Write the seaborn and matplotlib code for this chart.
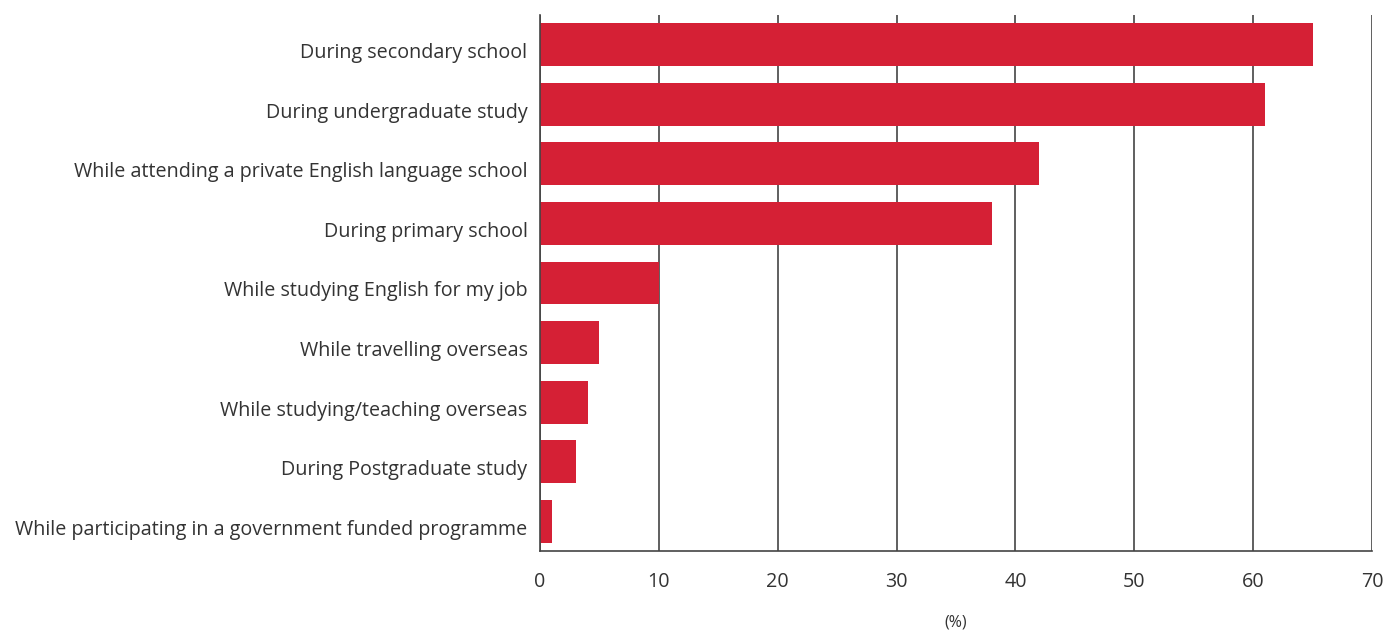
import numpy as np
import pandas as pd
import matplotlib
matplotlib.use("Agg")
import matplotlib.pyplot as plt
import matplotlib.transforms as mtransforms
import seaborn as sns

categories = [
    "During secondary school",
    "During undergraduate study",
    "While attending a private English language school",
    "During primary school",
    "While studying English for my job",
    "While travelling overseas",
    "While studying/teaching overseas",
    "During Postgraduate study",
    "While participating in a government funded programme",
]
values = [65, 61, 42, 38, 10, 5, 4, 3, 1]
xticks = [0, 10, 20, 30, 40, 50, 60, 70]

df = pd.DataFrame({"category": categories, "value": values})

sns.set_style("white")
plt.rcParams["font.family"] = ["Open Sans", "DejaVu Sans"]

fig = plt.figure(figsize=(13.85, 6.3), dpi=100)
ax = fig.add_axes([0.3899, 0.1254, 0.6007, 0.8508])

# gridlines behind bars
for t in xticks:
    ax.axvline(t, color="#444444", lw=1.2, zorder=0)

sns.barplot(data=df, x="value", y="category", color="#D52035",
            saturation=1, width=0.72, linewidth=0, ax=ax, zorder=2)

ax.set_xlim(0, 70)
ax.set_ylim(8.5, -0.5)
ax.set_xticks(xticks)
ax.set_xlabel("(%)", fontsize=11.5, color="#333333", labelpad=16)
ax.set_ylabel("")
ax.tick_params(axis="both", length=0, labelsize=14.2, colors="#333333")
ax.tick_params(axis="x", pad=15)
ax.tick_params(axis="y", pad=9)

# category labels sit a little below bar centres in the original
shift = mtransforms.ScaledTranslation(0, -6 / 100, fig.dpi_scale_trans)
for lab in ax.get_yticklabels():
    lab.set_transform(lab.get_transform() + shift)

for s in ["top", "right"]:
    ax.spines[s].set_visible(False)
for s in ["left", "bottom"]:
    ax.spines[s].set_color("#444444")
    ax.spines[s].set_linewidth(1.2)

fig.savefig("out.png", dpi=100)
